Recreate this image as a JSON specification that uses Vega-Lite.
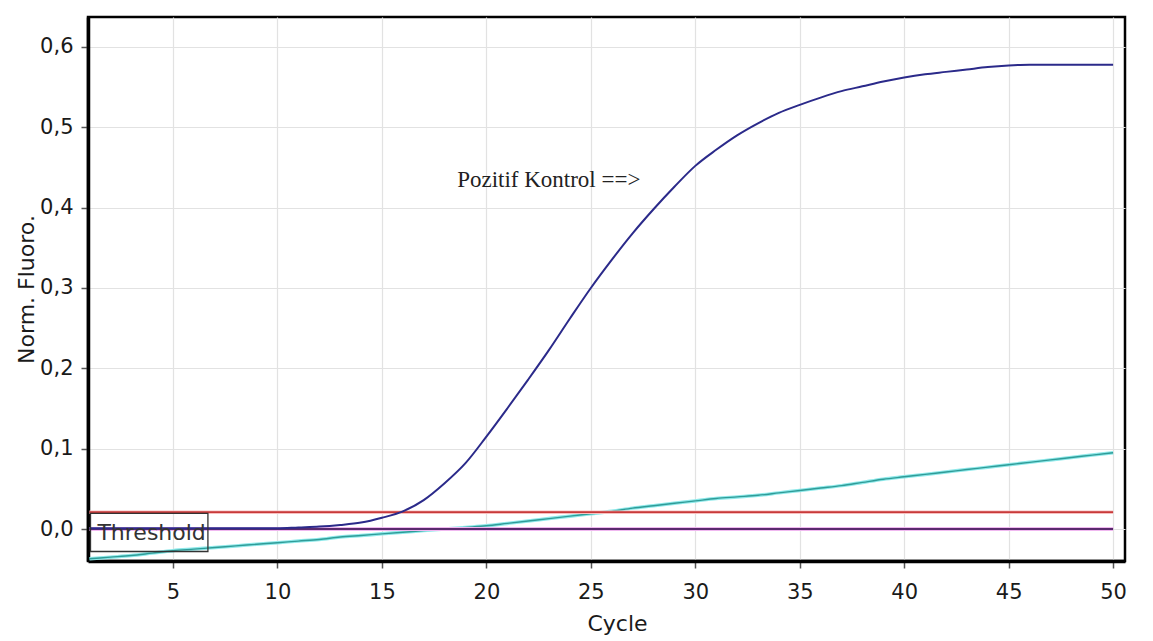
{
  "$schema": "https://vega.github.io/schema/vega-lite/v6.json",
  "width": 1037,
  "height": 544,
  "autosize": {"type": "none"},
  "padding": {"left": 88, "top": 17, "right": 28, "bottom": 80},
  "background": "#ffffff",
  "config": {
    "view": {"stroke": "#000000", "strokeWidth": 2.5},
    "axis": {
      "labelFont": "DejaVu Sans",
      "labelFontSize": 21,
      "labelColor": "#1a1a1a",
      "titleFont": "DejaVu Sans",
      "titleFontSize": 22,
      "titleFontWeight": "normal",
      "titleColor": "#1a1a1a",
      "gridColor": "#e2e2e2",
      "gridWidth": 1.2,
      "domainColor": "#000000",
      "domainWidth": 3.5,
      "tickColor": "#555555",
      "tickSize": 7,
      "tickWidth": 1.5
    }
  },
  "datasets": {
    "pos": [
      {"cycle": 1, "value": 0.001}, {"cycle": 2, "value": 0.001}, {"cycle": 3, "value": 0.001},
      {"cycle": 4, "value": 0.001}, {"cycle": 5, "value": 0.001}, {"cycle": 6, "value": 0.001},
      {"cycle": 7, "value": 0.001}, {"cycle": 8, "value": 0.001}, {"cycle": 9, "value": 0.001},
      {"cycle": 10, "value": 0.001}, {"cycle": 11, "value": 0.002}, {"cycle": 12, "value": 0.003},
      {"cycle": 13, "value": 0.005}, {"cycle": 14, "value": 0.008}, {"cycle": 15, "value": 0.014},
      {"cycle": 16, "value": 0.022}, {"cycle": 17, "value": 0.036}, {"cycle": 18, "value": 0.057},
      {"cycle": 19, "value": 0.082}, {"cycle": 20, "value": 0.115}, {"cycle": 21, "value": 0.150},
      {"cycle": 22, "value": 0.186}, {"cycle": 23, "value": 0.223}, {"cycle": 24, "value": 0.262},
      {"cycle": 25, "value": 0.300}, {"cycle": 26, "value": 0.335}, {"cycle": 27, "value": 0.368},
      {"cycle": 28, "value": 0.398}, {"cycle": 29, "value": 0.426}, {"cycle": 30, "value": 0.452},
      {"cycle": 31, "value": 0.472}, {"cycle": 32, "value": 0.490}, {"cycle": 33, "value": 0.505},
      {"cycle": 34, "value": 0.518}, {"cycle": 35, "value": 0.528}, {"cycle": 36, "value": 0.537},
      {"cycle": 37, "value": 0.545}, {"cycle": 38, "value": 0.551}, {"cycle": 39, "value": 0.557},
      {"cycle": 40, "value": 0.562}, {"cycle": 41, "value": 0.566}, {"cycle": 42, "value": 0.569},
      {"cycle": 43, "value": 0.572}, {"cycle": 44, "value": 0.575}, {"cycle": 45, "value": 0.577},
      {"cycle": 46, "value": 0.578}, {"cycle": 47, "value": 0.578}, {"cycle": 48, "value": 0.578},
      {"cycle": 49, "value": 0.578}, {"cycle": 50, "value": 0.578}
    ],
    "cyan": [
      {"cycle": 1, "value": -0.037}, {"cycle": 2, "value": -0.035}, {"cycle": 3, "value": -0.033},
      {"cycle": 4, "value": -0.030}, {"cycle": 5, "value": -0.027}, {"cycle": 6, "value": -0.025},
      {"cycle": 7, "value": -0.023}, {"cycle": 8, "value": -0.021}, {"cycle": 9, "value": -0.019},
      {"cycle": 10, "value": -0.017}, {"cycle": 11, "value": -0.015}, {"cycle": 12, "value": -0.013},
      {"cycle": 13, "value": -0.010}, {"cycle": 14, "value": -0.008}, {"cycle": 15, "value": -0.006},
      {"cycle": 16, "value": -0.004}, {"cycle": 17, "value": -0.002}, {"cycle": 18, "value": 0.000},
      {"cycle": 19, "value": 0.002}, {"cycle": 20, "value": 0.004}, {"cycle": 21, "value": 0.007},
      {"cycle": 22, "value": 0.010}, {"cycle": 23, "value": 0.013}, {"cycle": 24, "value": 0.016},
      {"cycle": 25, "value": 0.019}, {"cycle": 26, "value": 0.022}, {"cycle": 27, "value": 0.026},
      {"cycle": 28, "value": 0.029}, {"cycle": 29, "value": 0.032}, {"cycle": 30, "value": 0.035},
      {"cycle": 31, "value": 0.038}, {"cycle": 32, "value": 0.040}, {"cycle": 33, "value": 0.042},
      {"cycle": 34, "value": 0.045}, {"cycle": 35, "value": 0.048}, {"cycle": 36, "value": 0.051},
      {"cycle": 37, "value": 0.054}, {"cycle": 38, "value": 0.058}, {"cycle": 39, "value": 0.062},
      {"cycle": 40, "value": 0.065}, {"cycle": 41, "value": 0.068}, {"cycle": 42, "value": 0.071},
      {"cycle": 43, "value": 0.074}, {"cycle": 44, "value": 0.077}, {"cycle": 45, "value": 0.080},
      {"cycle": 46, "value": 0.083}, {"cycle": 47, "value": 0.086}, {"cycle": 48, "value": 0.089},
      {"cycle": 49, "value": 0.092}, {"cycle": 50, "value": 0.095}
    ],
    "threshold": [
      {"cycle": 1, "value": 0.021}, {"cycle": 50, "value": 0.021}
    ],
    "zero": [
      {"cycle": 1, "value": 0.0}, {"cycle": 50, "value": 0.0}
    ],
    "box": [
      {"cycle": 1.05, "cycle2": 6.67, "value": 0.0195, "value2": -0.028}
    ],
    "labels": [
      {"cycle": 1.38, "value": -0.0135, "text": "Threshold"}
    ],
    "note": [
      {"cycle": 18.6, "value": 0.426, "text": "Pozitif Kontrol ==>"}
    ]
  },
  "encoding": {
    "x": {
      "field": "cycle",
      "type": "quantitative",
      "scale": {"domain": [0.93, 50.57], "nice": false, "zero": false},
      "axis": {
        "title": "Cycle",
        "values": [5, 10, 15, 20, 25, 30, 35, 40, 45, 50],
        "labelPadding": 13,
        "titleX": 529,
        "titleY": 69,
        "titleBaseline": "alphabetic",
        "titleAnchor": "start",
        "titleAlign": "center"
      }
    },
    "y": {
      "field": "value",
      "type": "quantitative",
      "scale": {"domain": [-0.0398, 0.6373], "nice": false, "zero": false},
      "axis": {
        "title": "Norm. Fluoro.",
        "values": [0, 0.1, 0.2, 0.3, 0.4, 0.5, 0.6],
        "labelExpr": "replace(format(datum.value, '.1f'), '.', ',')",
        "labelPadding": 8,
        "titleX": -55,
        "titleY": 272,
        "titleAngle": -90,
        "titleAlign": "center",
        "titleBaseline": "alphabetic",
        "titleAnchor": "start"
      }
    }
  },
  "layer": [
    {
      "data": {"name": "cyan"},
      "mark": {"type": "line", "color": "#8fe9ea", "strokeWidth": 3.5, "interpolate": "monotone"}
    },
    {
      "data": {"name": "cyan"},
      "mark": {"type": "line", "color": "#2f9c98", "strokeWidth": 1.4, "interpolate": "monotone"}
    },
    {
      "data": {"name": "zero"},
      "mark": {"type": "line", "color": "#f0b8f0", "strokeWidth": 4}
    },
    {
      "data": {"name": "zero"},
      "mark": {"type": "line", "color": "#5a2a6e", "strokeWidth": 2}
    },
    {
      "data": {"name": "threshold"},
      "mark": {"type": "line", "color": "#f8c0c0", "strokeWidth": 3.5}
    },
    {
      "data": {"name": "threshold"},
      "mark": {"type": "line", "color": "#c83a3a", "strokeWidth": 1.6}
    },
    {
      "data": {"name": "pos"},
      "mark": {"type": "line", "color": "#2b2a8a", "strokeWidth": 2, "interpolate": "monotone"}
    },
    {
      "data": {"name": "box"},
      "mark": {"type": "rect", "fill": null, "fillOpacity": 0, "stroke": "#333333", "strokeWidth": 1.3},
      "encoding": {
        "x2": {"field": "cycle2"},
        "y2": {"field": "value2"}
      }
    },
    {
      "data": {"name": "labels"},
      "mark": {"type": "text", "align": "left", "baseline": "alphabetic", "font": "DejaVu Sans", "fontSize": 22, "color": "#333333"},
      "encoding": {"text": {"field": "text"}}
    },
    {
      "data": {"name": "note"},
      "mark": {"type": "text", "align": "left", "baseline": "alphabetic", "font": "Liberation Serif", "fontSize": 23, "color": "#222222"},
      "encoding": {"text": {"field": "text"}}
    }
  ]
}
